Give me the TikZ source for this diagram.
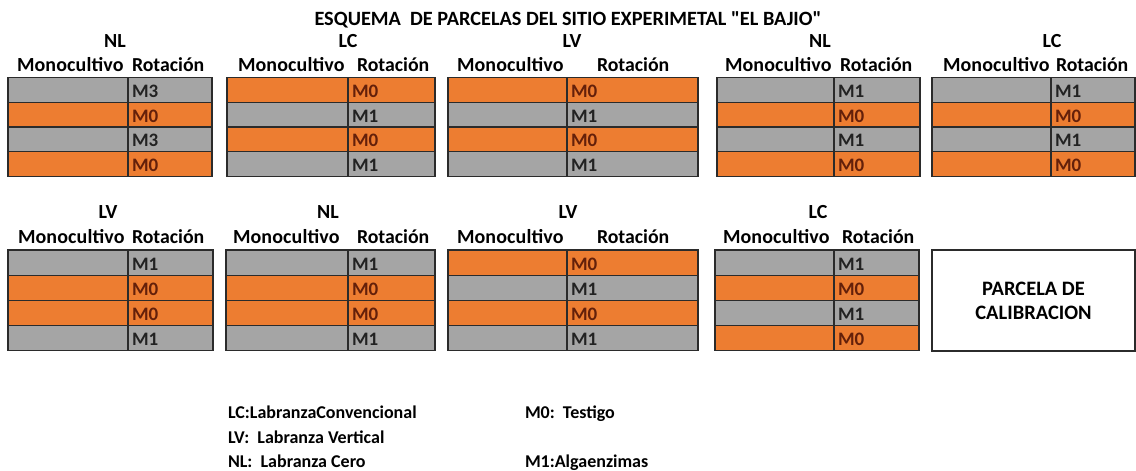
\documentclass[tikz,border=0pt]{standalone}
\usepackage{fontspec}
\setmainfont{Carlito}[Ligatures=TeXOff]
\definecolor{org}{HTML}{ED7D31}
\definecolor{gry}{HTML}{A5A5A5}
\definecolor{mzero}{HTML}{64200A}
\definecolor{mone}{HTML}{222222}
\definecolor{frame}{HTML}{2B2B2B}
\newcommand{\mytable}[7]{%
  \foreach \c/\t/\k [count=\i] in {#7} {
    \node[cellbox, fill=\c, minimum width={#3-#2}, minimum height={#6}, anchor=north west]
      (#1a\i) at (#2, {#5+(\i-1)*#6}) {};
    \node[cellbox, fill=\c, minimum width={#4-#3}, minimum height={#6}, anchor=north west]
      (#1b\i) at (#3, {#5+(\i-1)*#6}) {};
    \node[celltext, text=\k, anchor=base west] (#1t\i) at ([xshift=4pt, yshift=5pt]#1b\i.south west) {\t};
  }
}
\begin{document}
\begin{tikzpicture}[x=1pt, y=-1pt,
  every node/.style={font=\bfseries\fontsize{18}{24}\selectfont, inner sep=0pt, outer sep=0pt},
  cellbox/.style={draw=frame, line width=1.1pt},
  celltext/.style={font=\bfseries\fontsize{19}{24}\selectfont},
  hdrm/.style={anchor=base west, font=\bfseries\fontsize{20}{24}\selectfont\addfontfeatures{LetterSpace=0.6}},
  hdrr/.style={anchor=base west, font=\bfseries\fontsize{19.8}{24}\selectfont},
  lbl/.style={anchor=base, font=\bfseries\fontsize{20}{24}\selectfont},
  legend/.style={anchor=base west, font=\bfseries\fontsize{18}{24}\selectfont}]
\useasboundingbox (0,0) rectangle (1136,471);

% title
\node[anchor=base, font=\bfseries\fontsize{20.3}{24}\selectfont] (title) at (568,25)
  {ESQUEMA\ \ DE PARCELAS DEL SITIO EXPERIMETAL "EL BAJIO"};

% ---------- row 1 ----------
\mytable{A}{8}{128}{212}{77.5}{24.75}{gry/M3/mone, org/M0/mzero, gry/M3/mone, org/M0/mzero}
\mytable{B}{227}{348}{435}{77.5}{24.75}{org/M0/mzero, gry/M1/mone, org/M0/mzero, gry/M1/mone}
\mytable{C}{448}{567}{698}{77.5}{24.75}{org/M0/mzero, gry/M1/mone, org/M0/mzero, gry/M1/mone}
\mytable{D}{717}{834}{920}{77.5}{24.75}{gry/M1/mone, org/M0/mzero, gry/M1/mone, org/M0/mzero}
\mytable{E}{932}{1051}{1135}{77.5}{24.75}{gry/M1/mone, org/M0/mzero, gry/M1/mone, org/M0/mzero}

\node[lbl] (Al) at (115,47) {NL};
\node[lbl] (Bl) at (348,47) {LC};
\node[lbl] (Cl) at (572,47) {LV};
\node[lbl] (Dl) at (820,47) {NL};
\node[lbl] (El) at (1052,47) {LC};

\node[hdrm] (Am) at (17,71) {Monocultivo};
\node[hdrr] (Ar) at (132,71) {Rotación};
\node[hdrm] (Bm) at (238,71) {Monocultivo};
\node[hdrr] (Br) at (357,71) {Rotación};
\node[hdrm] (Cm) at (457,71) {Monocultivo};
\node[hdrr] (Cr) at (597,71) {Rotación};
\node[hdrm] (Dm) at (725,71) {Monocultivo};
\node[hdrr] (Dr) at (840,71) {Rotación};
\node[hdrm] (Em) at (943,71) {Monocultivo};
\node[hdrr] (Er) at (1056,71) {Rotación};

% ---------- row 2 ----------
\mytable{F}{8}{128}{213}{250}{25.1}{gry/M1/mone, org/M0/mzero, org/M0/mzero, gry/M1/mone}
\mytable{G}{226}{348}{435}{250}{25.1}{gry/M1/mone, org/M0/mzero, org/M0/mzero, gry/M1/mone}
\mytable{H}{448}{567}{698}{250}{25.1}{org/M0/mzero, gry/M1/mone, org/M0/mzero, gry/M1/mone}
\mytable{K}{715}{834}{919}{250}{25.1}{gry/M1/mone, org/M0/mzero, gry/M1/mone, org/M0/mzero}

\node[lbl] (Fl) at (108,218) {LV};
\node[lbl] (Gl) at (328,218) {NL};
\node[lbl] (Hl) at (568,218) {LV};
\node[lbl] (Kl) at (818,218) {LC};

\node[hdrm] (Fm) at (18,243) {Monocultivo};
\node[hdrr] (Fr) at (132,243) {Rotación};
\node[hdrm] (Gm) at (233,243) {Monocultivo};
\node[hdrr] (Gr) at (357,243) {Rotación};
\node[hdrm] (Hm) at (457,243) {Monocultivo};
\node[hdrr] (Hr) at (597,243) {Rotación};
\node[hdrm] (Km) at (723,243) {Monocultivo};
\node[hdrr] (Kr) at (842,243) {Rotación};

% calibration plot
\node[draw=frame, line width=1.1pt, fill=white, minimum width=203, minimum height=101,
  anchor=north west, align=center, font=\bfseries\fontsize{20.5}{24}\selectfont] (cal) at (932,250) {PARCELA DE\\CALIBRACION};

% legend
\node[legend] (lc) at (228,418) {LC:LabranzaConvencional};
\node[legend] (lv) at (228,443) {LV:\ \ Labranza Vertical};
\node[legend] (nl) at (228,467) {NL:\ \ Labranza Cero};
\node[legend] (m0) at (525,418) {M0:\ \ Testigo};
\node[legend] (m1) at (525,467) {M1:Algaenzimas};
\end{tikzpicture}
\end{document}
